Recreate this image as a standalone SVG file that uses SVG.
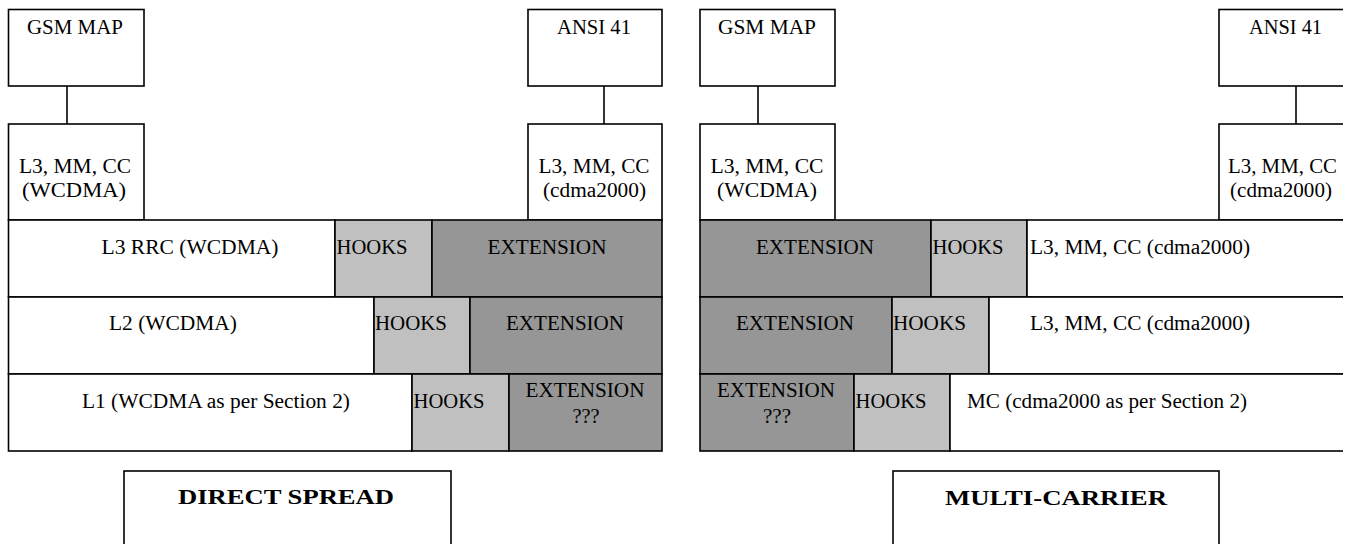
<svg xmlns="http://www.w3.org/2000/svg" width="1352" height="544" viewBox="0 0 1352 544">
<style>
rect{stroke:#000;stroke-width:1.6}
.w{fill:#fff}
.h{fill:#c0c0c0}
.e{fill:#969696}
text{font-family:'Liberation Serif','Times New Roman',serif;font-size:20px;fill:#000;text-anchor:middle}
.b{font-weight:bold;font-size:22px}
line{stroke:#000;stroke-width:1.6}
</style>
<defs>
<clipPath id="clip"><rect x="0" y="0" width="1343" height="544" style="stroke:none"/></clipPath>
</defs>
<rect x="0" y="0" width="1352" height="544" style="fill:#fff;stroke:none"/>
<g id="connectors">
<line x1="67" y1="86" x2="67" y2="124"/>
<line x1="604" y1="86" x2="604" y2="124"/>
<line x1="758" y1="86" x2="758" y2="124"/>
<line x1="1296" y1="86" x2="1296" y2="124"/>
</g>
<g id="ds-gsm-map"><rect class="w" x="8.5" y="9.5" width="135.5" height="76.5"/><text x="75" y="34" textLength="96" lengthAdjust="spacingAndGlyphs">GSM MAP</text></g>
<g id="ds-l3-wcdma"><rect class="w" x="8.5" y="124" width="135.5" height="96"/><text x="75" y="173" textLength="112" lengthAdjust="spacingAndGlyphs">L3, MM, CC</text><text x="74" y="197" textLength="104" lengthAdjust="spacingAndGlyphs">(WCDMA)</text></g>
<g id="ds-ansi41"><rect class="w" x="528" y="9.5" width="134" height="76.5"/><text x="594" y="34" textLength="74" lengthAdjust="spacingAndGlyphs">ANSI 41</text></g>
<g id="ds-l3-cdma"><rect class="w" x="528" y="124" width="134" height="96"/><text x="594" y="173" textLength="111" lengthAdjust="spacingAndGlyphs">L3, MM, CC</text><text x="594.5" y="197" textLength="103" lengthAdjust="spacingAndGlyphs">(cdma2000)</text></g>
<g id="ds-row1">
<rect class="w" x="8.5" y="220" width="326.5" height="77"/><text x="190" y="254" textLength="177" lengthAdjust="spacingAndGlyphs">L3 RRC (WCDMA)</text>
<rect class="h" x="335" y="220" width="97" height="77"/><text x="372" y="254" textLength="71" lengthAdjust="spacingAndGlyphs">HOOKS</text>
<rect class="e" x="432" y="220" width="230" height="77"/><text x="547" y="254" textLength="119" lengthAdjust="spacingAndGlyphs">EXTENSION</text>
</g>
<g id="ds-row2">
<rect class="w" x="8.5" y="297" width="365.5" height="77"/><text x="173" y="330" textLength="128" lengthAdjust="spacingAndGlyphs">L2 (WCDMA)</text>
<rect class="h" x="374" y="297" width="96" height="77"/><text x="411" y="330" textLength="72" lengthAdjust="spacingAndGlyphs">HOOKS</text>
<rect class="e" x="470" y="297" width="192" height="77"/><text x="565" y="330" textLength="118" lengthAdjust="spacingAndGlyphs">EXTENSION</text>
</g>
<g id="ds-row3">
<rect class="w" x="8.5" y="374" width="403.5" height="77"/><text x="216" y="408" textLength="268" lengthAdjust="spacingAndGlyphs">L1 (WCDMA as per Section 2)</text>
<rect class="h" x="412" y="374" width="97" height="77"/><text x="449" y="408" textLength="71" lengthAdjust="spacingAndGlyphs">HOOKS</text>
<rect class="e" x="509" y="374" width="153" height="77"/><text x="585" y="397" textLength="119" lengthAdjust="spacingAndGlyphs">EXTENSION</text><text x="586" y="423" textLength="27" lengthAdjust="spacingAndGlyphs">???</text>
</g>
<g id="ds-label"><rect class="w" x="124" y="471" width="327" height="90"/><text class="b" x="286" y="504" textLength="216" lengthAdjust="spacingAndGlyphs">DIRECT SPREAD</text></g>
<g id="mc-gsm-map"><rect class="w" x="700" y="9.5" width="135" height="76.5"/><text x="767" y="34" textLength="98" lengthAdjust="spacingAndGlyphs">GSM MAP</text></g>
<g id="mc-l3-wcdma"><rect class="w" x="700" y="124" width="135" height="96"/><text x="767" y="173" textLength="113" lengthAdjust="spacingAndGlyphs">L3, MM, CC</text><text x="767" y="197" textLength="100" lengthAdjust="spacingAndGlyphs">(WCDMA)</text></g>
<g clip-path="url(#clip)">
<g id="mc-ansi41"><rect class="w" x="1219" y="9.5" width="134" height="76.5"/><text x="1285.5" y="34" textLength="73" lengthAdjust="spacingAndGlyphs">ANSI 41</text></g>
<g id="mc-l3-cdma"><rect class="w" x="1219" y="124" width="134" height="96"/><text x="1282.5" y="173" textLength="109" lengthAdjust="spacingAndGlyphs">L3, MM, CC</text><text x="1281" y="197" textLength="102" lengthAdjust="spacingAndGlyphs">(cdma2000)</text></g>
<g id="mc-row1">
<rect class="e" x="700" y="220" width="231" height="77"/><text x="815" y="254" textLength="118" lengthAdjust="spacingAndGlyphs">EXTENSION</text>
<rect class="h" x="931" y="220" width="96" height="77"/><text x="968" y="254" textLength="71" lengthAdjust="spacingAndGlyphs">HOOKS</text>
<rect class="w" x="1027" y="220" width="340" height="77"/><text x="1140" y="254" textLength="220" lengthAdjust="spacingAndGlyphs">L3, MM, CC (cdma2000)</text>
</g>
<g id="mc-row2">
<rect class="e" x="700" y="297" width="192" height="77"/><text x="795" y="330" textLength="118" lengthAdjust="spacingAndGlyphs">EXTENSION</text>
<rect class="h" x="892" y="297" width="97" height="77"/><text x="929.5" y="330" textLength="73" lengthAdjust="spacingAndGlyphs">HOOKS</text>
<rect class="w" x="989" y="297" width="378" height="77"/><text x="1140" y="330" textLength="220" lengthAdjust="spacingAndGlyphs">L3, MM, CC (cdma2000)</text>
</g>
<g id="mc-row3">
<rect class="e" x="700" y="374" width="154" height="77"/><text x="776" y="397" textLength="118" lengthAdjust="spacingAndGlyphs">EXTENSION</text><text x="777" y="423" textLength="28" lengthAdjust="spacingAndGlyphs">???</text>
<rect class="h" x="854" y="374" width="96" height="77"/><text x="891" y="408" textLength="71" lengthAdjust="spacingAndGlyphs">HOOKS</text>
<rect class="w" x="950" y="374" width="417" height="77"/><text x="1107" y="408" textLength="280" lengthAdjust="spacingAndGlyphs">MC (cdma2000 as per Section 2)</text>
</g>
</g>
<g id="mc-label"><rect class="w" x="893" y="471" width="326" height="90"/><text class="b" x="1056" y="505" textLength="222" lengthAdjust="spacingAndGlyphs">MULTI-CARRIER</text></g>
</svg>
